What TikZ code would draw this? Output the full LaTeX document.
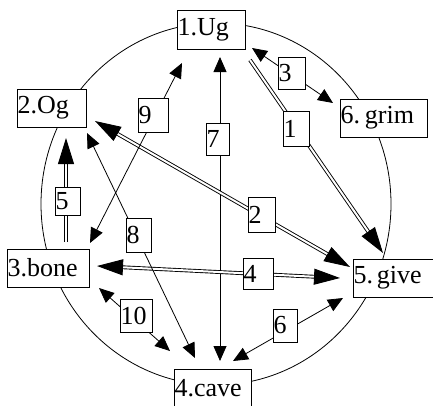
\documentclass[tikz,border=0pt]{standalone}
\usepackage{fontspec}
\setmainfont{Liberation Serif}
\usetikzlibrary{arrows.meta}
\begin{document}
\begin{tikzpicture}[x=1pt,y=-1pt,
  every node/.style={font=\fontsize{26}{30}\selectfont},
  bx/.style={draw, fill=white, line width=0.9pt, inner xsep=0.5pt, inner ysep=0pt, align=left},
  sl/.style={line width=0.8pt},
  sa/.style={sl, {Triangle[length=15pt,width=13pt]}-{Triangle[length=15pt,width=13pt]}},
  dl/.style={double, double distance=2pt, line width=0.9pt},
  dtip/.tip={Triangle[length=26pt,width=16pt]},
  da/.style={dl, dtip-dtip},
  dr/.style={dl, -dtip}
]
\useasboundingbox (0,0) rectangle (433,405);
\clip (0,0) rectangle (433,405);
\fill[white] (0,0) rectangle (433,405);

% outer ring
\draw[sl] (216,204) ellipse [x radius=175pt, y radius=181pt];

% connector end points
\coordinate (e7a) at (220,57);  \coordinate (e7b) at (220,361);
\coordinate (e3a) at (252,48);  \coordinate (e3b) at (333,103);
\coordinate (e1a) at (250,60);  \coordinate (e1b) at (383,253);
\coordinate (e2a) at (95,121);  \coordinate (e2b) at (350,267);
\coordinate (e4a) at (97,266);  \coordinate (e4b) at (340,278);
\coordinate (e5a) at (66,242);  \coordinate (e5b) at (66,138);
\coordinate (e9a) at (90,243);  \coordinate (e9b) at (182,63);
\coordinate (e8a) at (87,133);  \coordinate (e8b) at (195,358);
\coordinate (e10a) at (99,288); \coordinate (e10b) at (170,351);
\coordinate (e6a) at (343,298); \coordinate (e6b) at (233,361);

% connectors
\draw[sa] (e7a) -- (e7b);
\draw[sa] (e3a) -- (e3b);
\draw[dr] (e1a) -- (e1b);
\draw[da] (e2a) -- (e2b);
\draw[da] (e4a) -- (e4b);
\draw[dr] (e5a) -- (e5b);
\draw[sa] (e9a) -- (e9b);
\draw[sa] (e8a) -- (e8b);
\draw[sa] (e10a) -- (e10b);
\draw[sa] (e6a) -- (e6b);

% main nodes
\node[bx, text width=67pt, minimum height=39pt] (Ug)   at (211,29.5) {1.Ug};
\node[bx, text width=68pt, minimum height=38pt] (Og)   at (51.5,108) {2.Og};
\node[bx, text width=86pt, minimum height=38pt] (grim) at (383.5,118) {6.\hspace{5pt}grim};
\node[bx, text width=81pt, minimum height=38pt] (bone) at (48,268) {3.bone};
\node[bx, text width=76pt, minimum height=38pt] (cave) at (212.5,388) {4.cave};
\node[bx, text width=83pt, minimum height=38pt] (give) at (395,278) {5.\hspace{4pt}give};

% connector labels
\node[bx, text width=22pt, minimum height=32pt] (l7)  at (217.5,139) {7};
\node[bx, text width=26pt, minimum height=32pt] (l3)  at (291.5,73) {3};
\node[bx, text width=25pt, minimum height=35pt] (l1)  at (296,128.5) {1};
\node[bx, text width=26pt, minimum height=35pt] (l2)  at (261.5,214.5) {2};
\node[bx, text width=29pt, minimum height=31pt] (l4)  at (258,273.5) {4};
\node[bx, text width=24pt, minimum height=28pt] (l5)  at (67.5,201) {5};
\node[bx, text width=29pt, minimum height=34pt] (l9)  at (153,115) {9};
\node[bx, text width=24pt, minimum height=34pt] (l8)  at (138.5,235) {8};
\node[bx, text width=31pt, minimum height=33pt] (l10) at (136,315.5) {10};
\node[bx, text width=23pt, minimum height=33pt] (l6)  at (285,325.5) {6};
\end{tikzpicture}
\end{document}
